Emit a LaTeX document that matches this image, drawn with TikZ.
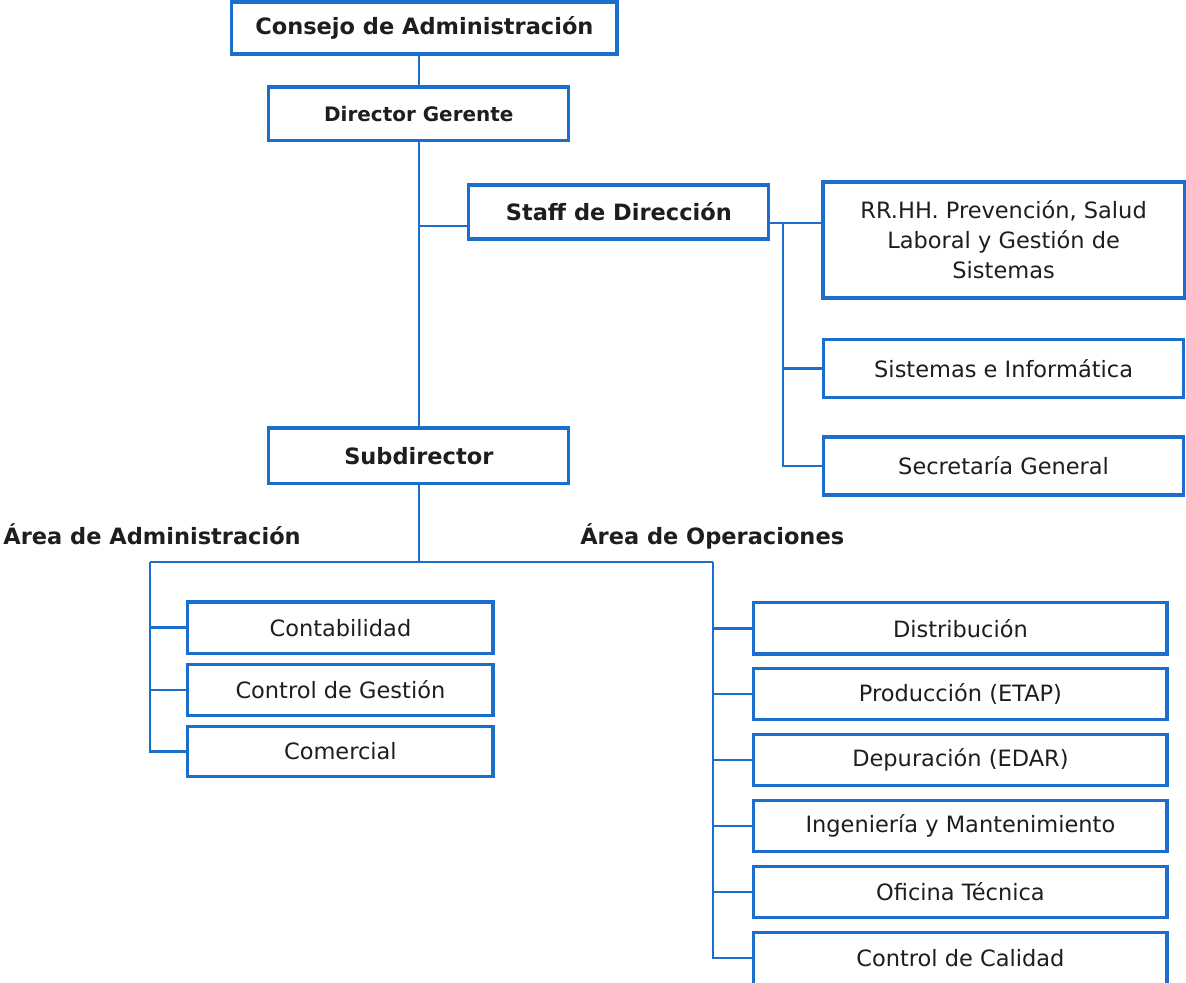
\documentclass[tikz,border=0pt]{standalone}
\usepackage{fontspec}
\setmainfont{DejaVu Sans}
\usepackage{tikz}
\usetikzlibrary{positioning}
\definecolor{orgBlue}{RGB}{28,110,205}
\definecolor{orgText}{RGB}{30,30,30}

\begin{document}
\begin{tikzpicture}[
  box/.style={draw=orgBlue, line width=2.2pt, fill=white, inner sep=2pt, text=orgText, align=center, font=\fontsize{16}{21.3}\selectfont},
  boss/.style={box, font=\fontsize{16}{21.3}\selectfont\bfseries},
  area/.style={text=orgText, inner sep=0pt, font=\fontsize{16}{21.3}\selectfont\bfseries},
  link/.style={draw=orgBlue, line width=1.6pt}]
  \useasboundingbox (0,0) rectangle (29.65,-24.55);
  % Direction
  \node[boss, minimum width=9.63cm, minimum height=1.30cm] (consejo) at (10.61,-0.70) {Consejo de Administración};
  \node[boss, minimum width=7.5cm, minimum height=1.33cm, font=\fontsize{14.2}{18}\selectfont\bfseries] (director) at (10.47,-2.84) {Director Gerente};
  \node[boss, minimum width=7.5cm, minimum height=1.35cm] (staff) at (15.47,-5.30) {Staff de Dirección};
  \node[boss, minimum width=7.5cm, minimum height=1.38cm] (subdir) at (10.47,-11.39) {Subdirector};
  % Staff units
  \node[box, minimum width=9.03cm, minimum height=2.90cm] (rrhh) at (25.09,-6.00) {RR.HH. Prevención, Salud\\Laboral y Gestión de\\Sistemas};
  \node[box, minimum width=9.0cm, minimum height=1.43cm, below=0.97cm of rrhh] (sist) {Sistemas e Informática};
  \node[box, minimum width=9.0cm, minimum height=1.45cm, below=0.92cm of sist] (secr) {Secretaría General};
  % Areas
  \node[area, anchor=base west] (areaadmin) at (0.08,-13.62) {Área de Administración};
  \node[area, anchor=base west] (areaop) at (14.5,-13.62) {Área de Operaciones};
  \node[box, minimum width=7.63cm, minimum height=1.28cm] (contab) at (8.51,-15.69) {Contabilidad};
  \node[box, minimum width=7.63cm, minimum height=1.28cm, below=0.20cm of contab] (ctrlgest) {Control de Gestión};
  \node[box, minimum width=7.63cm, minimum height=1.25cm, below=0.20cm of ctrlgest] (comerc) {Comercial};
  \node[box, minimum width=10.33cm, minimum height=1.28cm] (distrib) at (24.01,-15.71) {Distribución};
  \node[box, minimum width=10.33cm, minimum height=1.28cm, below=0.29cm of distrib] (produc) {Producción (ETAP)};
  \node[box, minimum width=10.33cm, minimum height=1.28cm, below=0.29cm of produc] (depur) {Depuración (EDAR)};
  \node[box, minimum width=10.33cm, minimum height=1.28cm, below=0.29cm of depur] (ingen) {Ingeniería y Mantenimiento};
  \node[box, minimum width=10.33cm, minimum height=1.28cm, below=0.29cm of ingen] (ofic) {Oficina Técnica};
  \node[box, minimum width=10.33cm, minimum height=1.30cm, below=0.29cm of ofic] (calid) {Control de Calidad};
  % Bus points
  \coordinate (staffbus) at (19.58,-5.58);
  \coordinate (adminbus) at (3.75,-14.05);
  \coordinate (opbus) at (17.83,-14.05);
  % Main line
  \draw[link] (consejo.south -| director.north) -- (director.north);
  \draw[link] (director.south) -- (subdir.north);
  \draw[link] ([yshift=-0.35cm]staff.west) -- ([yshift=-0.35cm]staff.west -| director.south);
  \draw[link] (subdir.south) -- (subdir.south |- adminbus);
  % Staff branches
  \draw[link] ([yshift=-0.28cm]staff.east) -- ([yshift=-0.28cm]staff.east -| rrhh.west);
  \draw[link] (staffbus) |- (secr.west);
  \draw[link] (sist.west) -- (sist.west -| staffbus);
  % Area branches
  \draw[link] (adminbus) -- (opbus);
  \draw[link] (adminbus) |- (comerc.west);
  \draw[link] (contab.west) -- (contab.west -| adminbus);
  \draw[link] (ctrlgest.west) -- (ctrlgest.west -| adminbus);
  \draw[link] (opbus) |- (calid.west);
  \draw[link] (distrib.west) -- (distrib.west -| opbus);
  \draw[link] (produc.west) -- (produc.west -| opbus);
  \draw[link] (depur.west) -- (depur.west -| opbus);
  \draw[link] (ingen.west) -- (ingen.west -| opbus);
  \draw[link] (ofic.west) -- (ofic.west -| opbus);
\end{tikzpicture}
\end{document}
